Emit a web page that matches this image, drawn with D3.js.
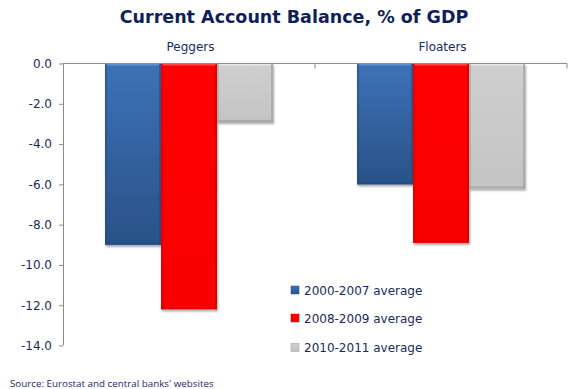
<!DOCTYPE html>
<html>
<head>
<meta charset="utf-8">
<script src="https://cdn.jsdelivr.net/npm/d3@7"></script>
<style>
  html, body { margin: 0; padding: 0; background: #fff; }
  svg { display: block; }
</style>
</head>
<body>
<svg id="chart" width="573" height="389"></svg>
<script>
// Current account balance (% of GDP) by exchange-rate regime
const categories = ["Peggers", "Floaters"];
const seriesNames = ["2000-2007 average", "2008-2009 average", "2010-2011 average"];
const avg2000_2007 = [-9.0, -6.0];
const avg2008_2009 = [-12.2, -8.9];
const avg2010_2011 = [-2.9, -6.2];
const yTicks = [0, -2, -4, -6, -8, -10, -12, -14];

const seriesValues = [avg2000_2007, avg2008_2009, avg2010_2011];
const navy = "#1b2a5c";

const svg = d3.select("#chart");
const margin = { left: 63, right: 6, top: 63.5, bottom: 43.5 };
const W = 573, H = 389;

const x = d3.scaleBand().domain(categories).range([margin.left, W - margin.right]).paddingInner(0).paddingOuter(0);
const xs = d3.scaleBand().domain(seriesNames).range([0, x.bandwidth()]).paddingInner(0).paddingOuter(0.75);
const y = d3.scaleLinear().domain([0, -14]).range([margin.top, H - margin.bottom]);

// gradients / filters
const defs = svg.append("defs");
const fills = [
  { id: "gBlue", top: "#3c72b8", bottom: "#2a5187", edge: "#6a9ad6", side: "#244a7e" },
  { id: "gRed", top: "#ff0000", bottom: "#f80000", edge: "#ff5a5a", side: "#d00000" },
  { id: "gGray", top: "#cfcfcf", bottom: "#c4c4c4", edge: "#ececec", side: "#9a9a9a" }
];
fills.forEach(f => {
  const g = defs.append("linearGradient").attr("id", f.id).attr("x1", 0).attr("y1", 0).attr("x2", 0).attr("y2", 1);
  g.append("stop").attr("offset", "0%").attr("stop-color", f.top);
  g.append("stop").attr("offset", "100%").attr("stop-color", f.bottom);
});
const shadow = defs.append("filter").attr("id", "shadow").attr("x", "-10%").attr("y", "-10%").attr("width", "130%").attr("height", "130%");
shadow.append("feDropShadow").attr("dx", 1).attr("dy", 2).attr("stdDeviation", 1.2).attr("flood-color", "#000").attr("flood-opacity", 0.35);

// bars
const groups = svg.append("g").selectAll("g")
  .data(seriesNames)
  .join("g");

groups.each(function(name, si) {
  const f = fills[si];
  const g = d3.select(this);
  categories.forEach((cat, ci) => {
    const v = seriesValues[si][ci];
    const bx = x(cat) + xs(name);
    const bw = xs.bandwidth();
    const by = y(0);
    const bh = y(v) - y(0);
    const bar = g.append("g").attr("filter", "url(#shadow)");
    bar.append("rect").attr("x", bx).attr("y", by).attr("width", bw).attr("height", bh)
      .attr("fill", `url(#${f.id})`);
    // bevel: light top edge, darker side edges
    bar.append("rect").attr("x", bx + 1).attr("y", by).attr("width", bw - 2).attr("height", 2)
      .attr("fill", f.edge).attr("opacity", 0.8);
    bar.append("rect").attr("x", bx).attr("y", by).attr("width", 2).attr("height", bh)
      .attr("fill", f.side).attr("opacity", 0.5);
    bar.append("rect").attr("x", bx + bw - 2).attr("y", by).attr("width", 2).attr("height", bh)
      .attr("fill", f.side).attr("opacity", 0.6);
    bar.append("rect").attr("x", bx).attr("y", by + bh - 2).attr("width", bw).attr("height", 2)
      .attr("fill", f.side).attr("opacity", 0.6);
  });
});

// y axis
const yAxis = svg.append("g").attr("transform", `translate(${margin.left},0)`)
  .call(d3.axisLeft(y).tickValues(yTicks).tickFormat(d3.format(".1f")).tickSize(4).tickPadding(7));
yAxis.select(".domain").attr("stroke", "#8c8c8c").attr("d", `M-0.5,${y(0)}H0.5V${y(-14)}`);
yAxis.selectAll(".tick line").attr("stroke", "#8c8c8c");
yAxis.selectAll(".tick text").attr("fill", navy).attr("font-family", "Verdana, 'DejaVu Sans', sans-serif")
  .attr("font-size", 12).text(d => d3.format(".1f")(d).replace("−", "-"));

// x axis along zero line with category separators
const xAxisG = svg.append("g").attr("transform", `translate(0,${y(0)})`);
xAxisG.append("line").attr("x1", margin.left).attr("x2", W - margin.right).attr("y1", 0).attr("y2", 0)
  .attr("stroke", "#8c8c8c").attr("stroke-width", 1.2);
const seps = [x(categories[1]), x(categories[1]) + x.bandwidth()];
xAxisG.selectAll("line.sep").data(seps).join("line").attr("class", "sep")
  .attr("x1", d => d).attr("x2", d => d).attr("y1", 0).attr("y2", 5).attr("stroke", "#8c8c8c");

// category labels
svg.append("g").selectAll("text").data(categories).join("text")
  .attr("x", d => x(d) + x.bandwidth() / 2 + 1.5)
  .attr("y", 51)
  .attr("text-anchor", "middle")
  .attr("fill", navy)
  .attr("font-family", "Verdana, 'DejaVu Sans', sans-serif")
  .attr("font-size", 12)
  .text(d => d);

// title
svg.append("text").attr("x", 294).attr("y", 23).attr("text-anchor", "middle")
  .attr("fill", "#0f1f5a").attr("font-family", "'DejaVu Sans', Verdana, sans-serif")
  .attr("font-weight", "bold").attr("font-size", 17.5)
  .text("Current Account Balance, % of GDP");

// legend
const legend = svg.append("g").attr("transform", "translate(291,290)");
const li = legend.selectAll("g").data(seriesNames).join("g")
  .attr("transform", (d, i) => `translate(0,${[0, 28, 57.5][i]})`);
li.append("rect").attr("x", 0).attr("y", -4).attr("width", 8).attr("height", 8)
  .attr("fill", (d, i) => `url(#${fills[i].id})`).attr("stroke", (d, i) => fills[i].side).attr("stroke-width", 0.5);
li.append("text").attr("x", 13).attr("y", 4.5)
  .attr("fill", navy).attr("font-family", "Verdana, 'DejaVu Sans', sans-serif").attr("font-size", 12)
  .text(d => d);

// source note
svg.append("text").attr("x", 10).attr("y", 387)
  .attr("fill", navy).attr("font-family", "'Open Sans', sans-serif").attr("font-size", 9.8)
  .text("Source: Eurostat and central banks' websites");
</script>
</body>
</html>
